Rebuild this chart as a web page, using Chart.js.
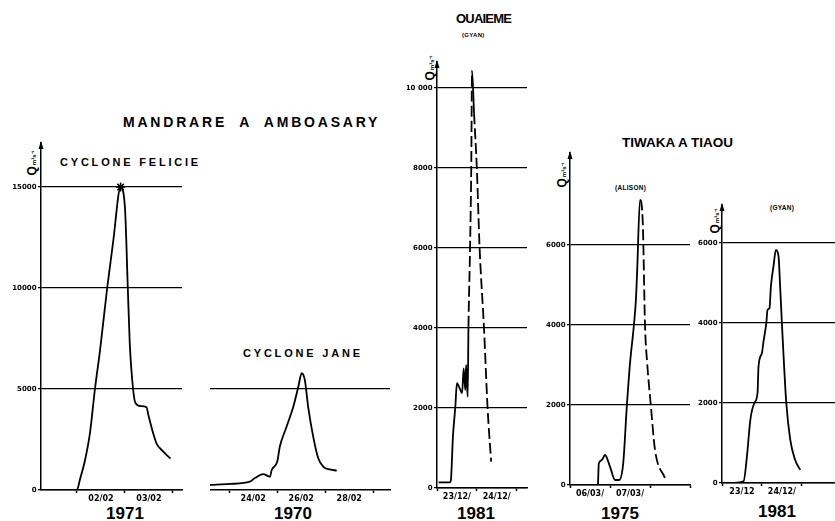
<!DOCTYPE html>
<html>
<head>
<meta charset="utf-8">
<script src="https://cdn.jsdelivr.net/npm/chart.js@4.4.1/dist/chart.umd.min.js"></script>
<style>
  html, body { margin: 0; padding: 0; background: #fff; overflow: hidden; }
  #page { position: relative; width: 835px; height: 521px; font-family: "Liberation Sans", Arial, sans-serif; color: #000; }
  #page canvas { position: absolute; }
  .t { position: absolute; white-space: nowrap; font-weight: bold; line-height: 1; transform: translate(0, -50%); }
  .c { transform: translate(-50%, -50%); }
  .q { position: absolute; white-space: nowrap; line-height: 1; font-weight: bold; transform: translate(-50%, -50%) rotate(-90deg); }
  .q small { font-size: 6px; margin-left: 1px; }
</style>
</head>
<body>
<div id="page">
  <div class="t" style="left:123px; top:122px; font-size:14px; letter-spacing:2.8px; word-spacing:6px;">MANDRARE A AMBOASARY</div>
  <div class="t" style="left:60px; top:162px; font-size:11px; letter-spacing:2.8px;">CYCLONE FELICIE</div>
  <div class="t" style="left:243px; top:353px; font-size:11px; letter-spacing:2.8px;">CYCLONE JANE</div>
  <div class="t" style="left:456px; top:18px; font-size:13px; letter-spacing:-0.8px;">OUAIEME</div>
  <div class="t" style="left:462px; top:35px; font-size:6px; letter-spacing:0.3px;">(GYAN)</div>
  <div class="t" style="left:622px; top:143px; font-size:13.5px;">TIWAKA A TIAOU</div>
  <div class="t" style="left:615px; top:188px; font-size:6.5px; letter-spacing:0.3px;">(ALISON)</div>
  <div class="t" style="left:770px; top:208px; font-size:6.5px; letter-spacing:0.3px;">(GYAN)</div>

  <div class="t c" style="left:125px; top:513px; font-size:17px;">1971</div>
  <div class="t c" style="left:293px; top:513px; font-size:17px;">1970</div>
  <div class="t c" style="left:476px; top:513px; font-size:17px;">1981</div>
  <div class="t c" style="left:620px; top:513px; font-size:17px;">1975</div>
  <div class="t c" style="left:777px; top:511px; font-size:17px;">1981</div>

  <div class="q" style="left:32px; top:163px; font-size:12px;">Q<small>m³s⁻¹</small></div>
  <div class="q" style="left:430px; top:68px; font-size:12px;">Q<small>m³s⁻¹</small></div>
  <div class="q" style="left:562px; top:175px; font-size:12px;">Q<small>m³s⁻¹</small></div>
  <div class="q" style="left:715px; top:221px; font-size:12px;">Q<small>m³s⁻¹</small></div>
</div>

<script>
// Mandrare à Amboasary, cyclone Félicie (février 1971) — time in days of February
const felicieDays = [1.71, 2.0, 2.06, 2.17, 2.27, 2.375, 2.48, 2.63, 2.76, 2.91, 3.0, 3.06, 3.10, 3.17, 3.22, 3.33, 3.45, 3.49, 3.59, 3.66, 3.80, 3.95];
const felicieFlow = [0, 0, 500, 1500, 2800, 5000, 6900, 10000, 12400, 15000, 14000, 10000, 7300, 5000, 4300, 4150, 4100, 3700, 2800, 2300, 1900, 1550];
const felicieDayTicks = [2, 3, 4];
const felicieDayLabels = ['02/02', '03/02'];
const felicieFlowTicks = [0, 5000, 10000, 15000];
const felicieFlowLabels = ['0', '5000', '10000', '15000'];

// Mandrare à Amboasary, cyclone Jane (février 1970) — days of February
const janeDays = [23.2, 24.03, 24.86, 25.07, 25.42, 25.7, 25.77, 26.0, 26.11, 26.39, 26.67, 26.88, 27.02, 27.15, 27.29, 27.5, 27.71, 27.92, 28.2, 28.48];
const janeFlow = [250, 300, 410, 590, 790, 660, 990, 1400, 2150, 3130, 4120, 5110, 5780, 5450, 4120, 2640, 1570, 1150, 1020, 960];
const janeDayTicks = [24, 26, 28, 30];
const janeDayLabels = ['24/02', '26/02', '28/02'];
const janeFlowTicks = [5000];

// Ouaieme, cyclone Gyan (décembre 1981) — days of December
const ouaiemeDays = [23.04, 23.33, 23.35, 23.4, 23.46, 23.5, 23.57, 23.63, 23.67, 23.71, 23.73, 23.77, 23.79, 23.83, 23.86, 23.88, 23.93, 24.0, 24.07, 24.18, 24.27, 24.36];
const ouaiemeFlow = [140, 140, 200, 1280, 2030, 2620, 2490, 2370, 2990, 2450, 3080, 2280, 4030, 6000, 8000, 10430, 9370, 8000, 6000, 4000, 2000, 660];
const ouaiemeDayTicks = [23, 24, 25];
const ouaiemeDayLabels = ['23/12/', '24/12/'];
const ouaiemeFlowTicks = [0, 2000, 4000, 6000, 8000, 10000];
const ouaiemeFlowLabels = ['0', '2000', '4000', '6000', '8000', '10 000'];

// Tiwaka à Tiaou, cyclone Alison (mars 1975) — days of March
const alisonDays = [6.70, 6.72, 6.79, 6.875, 7.0, 7.125, 7.23, 7.33, 7.42, 7.5, 7.6, 7.65, 7.68, 7.75, 7.82, 7.875, 7.93, 8.02, 8.125, 8.375];
const alisonFlow = [0, 540, 620, 750, 460, 125, 125, 540, 1960, 3040, 4020, 4670, 5375, 7125, 6540, 4000, 3040, 2000, 875, 170];
const alisonDayTicks = [6, 7, 8, 9];
const alisonDayLabels = ['06/03/', '07/03/'];
const alisonFlowTicks = [0, 2000, 4000, 6000];
const alisonFlowLabels = ['0', '2000', '4000', '6000'];

// Tiwaka à Tiaou, cyclone Gyan (décembre 1981) — days of December
const gyanDays = [23.29, 23.54, 23.625, 23.71, 23.81, 23.89, 23.915, 24.0, 24.04, 24.11, 24.14, 24.19, 24.225, 24.29, 24.35, 24.415, 24.46, 24.5, 24.61, 24.71, 24.83, 24.96];
const gyanFlow = [0, 40, 670, 1580, 2000, 2250, 2920, 3250, 3540, 4000, 4330, 4370, 4920, 5420, 5830, 5670, 4830, 4000, 2000, 1080, 580, 330];
const gyanDayTicks = [23, 24, 25];
const gyanDayLabels = ['23/12', '24/12/'];
const gyanFlowTicks = [0, 2000, 4000, 6000];
const gyanFlowLabels = ['0', '2000', '4000', '6000'];

// Small arrow head on top of the discharge axis
const axisArrow = {
  id: 'axisArrow',
  afterDraw(chart, args, opts) {
    if (!opts.show) return;
    const { ctx, chartArea } = chart;
    const x = chartArea.left, y = chartArea.top;
    ctx.save();
    ctx.fillStyle = '#000';
    ctx.beginPath();
    ctx.moveTo(x, y - 2);
    ctx.lineTo(x - 2.5, y + 6);
    ctx.lineTo(x + 2.5, y + 6);
    ctx.closePath();
    ctx.fill();
    ctx.restore();
  }
};

const tickFont = { family: 'DejaVu Sans', weight: 'bold', size: 7 };
const dayFont = { family: 'DejaVu Sans', weight: 'bold', size: 8 };

function buildPanel(p) {
  const [L, T, R, B] = p.area;
  const padTop = 8, padRight = 2, xh = 22;
  const page = document.getElementById('page');
  const cv = document.createElement('canvas');
  cv.width = R - L + p.yw + padRight;
  cv.height = B - T + padTop + xh;
  cv.style.left = (L - p.yw) + 'px';
  cv.style.top = (T - padTop) + 'px';
  page.appendChild(cv);

  // day boundaries carry the tick marks, interval midpoints carry the date labels
  const mids = p.dayLabels.map((_, i) => (p.dayTicks[i] + p.dayTicks[i + 1]) / 2);
  const xTickValues = p.dayTicks.concat(mids).sort((a, b) => a - b);
  const labelAt = new Map(mids.map((m, i) => [m, p.dayLabels[i]]));
  const isBoundary = v => p.dayTicks.includes(v);

  const peak = p.flow.indexOf(Math.max(...p.flow));

  new Chart(cv, {
    type: 'line',
    data: {
      datasets: [{
        data: p.days.map((d, i) => ({ x: d, y: p.flow[i] })),
        borderColor: '#000',
        borderWidth: 1.8,
        fill: false,
        cubicInterpolationMode: 'monotone',
        pointStyle: 'star',
        pointBorderColor: '#000',
        pointBorderWidth: 1.5,
        pointRadius: ctx => (p.star && ctx.dataIndex === peak) ? 4.5 : 0,
        segment: {
          borderDash: ctx => (p.dashed && p.dashed(ctx.p0DataIndex)) ? [11, 4] : undefined
        }
      }]
    },
    options: {
      responsive: false,
      animation: false,
      events: [],
      layout: { padding: { top: padTop, right: padRight, left: 0, bottom: 0 } },
      plugins: { legend: { display: false }, tooltip: { enabled: false }, axisArrow: { show: p.arrow } },
      scales: {
        x: {
          type: 'linear',
          min: p.xmin,
          max: p.xmax,
          afterFit: s => { s.height = xh; },
          afterBuildTicks: s => { s.ticks = xTickValues.map(v => ({ value: v })); },
          border: { display: true, color: '#000', width: 1.5 },
          grid: {
            drawOnChartArea: false,
            drawTicks: true,
            tickLength: 3,
            tickWidth: 1.5,
            tickColor: ctx => (ctx.tick && isBoundary(ctx.tick.value)) ? '#000' : 'rgba(0,0,0,0)'
          },
          ticks: {
            autoSkip: false, maxRotation: 0, minRotation: 0, padding: 1,
            color: '#000', font: dayFont,
            callback: v => labelAt.has(v) ? labelAt.get(v) : ''
          }
        },
        y: {
          type: 'linear',
          min: 0,
          max: p.ymax,
          afterFit: s => { s.width = p.yw; },
          afterBuildTicks: s => { s.ticks = p.flowTicks.map(v => ({ value: v })); },
          border: { display: p.yAxis, color: '#000', width: 1.5 },
          grid: {
            color: '#000', lineWidth: 1.2,
            drawTicks: p.yAxis, tickLength: 3, tickWidth: 1.2
          },
          ticks: {
            display: p.yAxis, padding: 1.5,
            color: '#000', font: tickFont,
            callback: (v, i) => p.flowLabels ? p.flowLabels[p.flowTicks.indexOf(v)] : ''
          }
        }
      }
    },
    plugins: [axisArrow]
  });
}

buildPanel({
  area: [41, 143, 182, 490], yw: 30, xmin: 1.25, xmax: 4.19, ymax: 17180,
  days: felicieDays, flow: felicieFlow,
  dayTicks: felicieDayTicks, dayLabels: felicieDayLabels,
  flowTicks: felicieFlowTicks, flowLabels: felicieFlowLabels,
  yAxis: true, arrow: true, star: true
});

buildPanel({
  area: [210, 369, 390, 490], yw: 0, xmin: 23.2, xmax: 30.7, ymax: 5990,
  days: janeDays, flow: janeFlow,
  dayTicks: janeDayTicks, dayLabels: janeDayLabels,
  flowTicks: janeFlowTicks, flowLabels: null,
  yAxis: false, arrow: false
});

buildPanel({
  area: [436.5, 62, 527, 488], yw: 30, xmin: 23.0, xmax: 25.26, ymax: 10650,
  days: ouaiemeDays, flow: ouaiemeFlow,
  dayTicks: ouaiemeDayTicks, dayLabels: ouaiemeDayLabels,
  flowTicks: ouaiemeFlowTicks, flowLabels: ouaiemeFlowLabels,
  yAxis: true, arrow: true,
  dashed: i => i >= 12 && i !== 15
});

buildPanel({
  area: [570, 153, 690, 485], yw: 25, xmin: 6.0, xmax: 9.0, ymax: 8300,
  days: alisonDays, flow: alisonFlow,
  dayTicks: alisonDayTicks, dayLabels: alisonDayLabels,
  flowTicks: alisonFlowTicks, flowLabels: alisonFlowLabels,
  yAxis: true, arrow: true,
  dashed: i => i >= 13
});

buildPanel({
  area: [722, 205, 835, 483], yw: 25, xmin: 23.0, xmax: 25.83, ymax: 6950,
  days: gyanDays, flow: gyanFlow,
  dayTicks: gyanDayTicks, dayLabels: gyanDayLabels,
  flowTicks: gyanFlowTicks, flowLabels: gyanFlowLabels,
  yAxis: true, arrow: true
});
</script>
</body>
</html>
